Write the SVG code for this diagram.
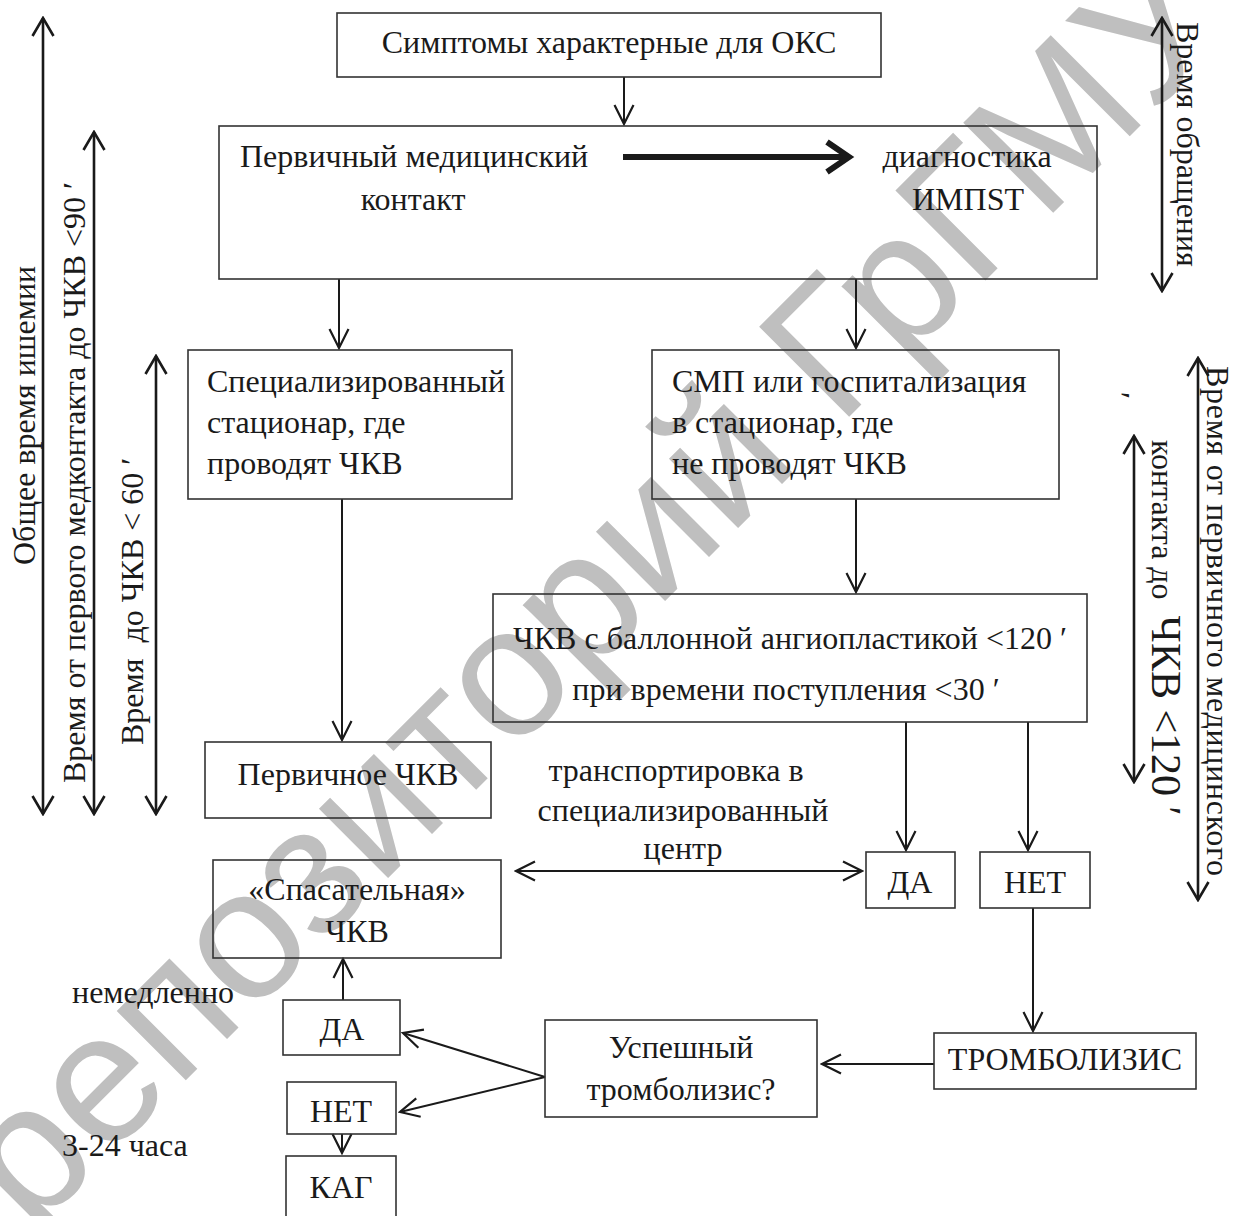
<svg xmlns="http://www.w3.org/2000/svg" width="1235" height="1216" viewBox="0 0 1235 1216">
<style>
.box{fill:none;stroke:#333;stroke-width:1.6}
.t{font-family:"Liberation Serif","Times New Roman",serif;font-size:32px;fill:#1a1a1a}
.m{text-anchor:middle}
.c{stroke:#1a1a1a;stroke-width:2;fill:none}
.s{stroke:#1a1a1a;stroke-width:2.6;fill:none}
.wm{font-family:"Liberation Sans",Arial,sans-serif;font-size:185px;fill:#bfbfbf;text-anchor:middle}
</style>
<defs>
<marker id="ah" markerUnits="userSpaceOnUse" viewBox="-22 -12 24 24" refX="0" refY="0" markerWidth="24" markerHeight="24" orient="auto-start-reverse">
<path d="M-19,-9.5 L0,0 L-19,9.5" fill="none" stroke="#1a1a1a" stroke-width="2.2"/>
</marker>
<marker id="ahb" markerUnits="userSpaceOnUse" viewBox="-22 -13 24 26" refX="0" refY="0" markerWidth="24" markerHeight="26" orient="auto-start-reverse">
<path d="M-18,-10.5 L0,0 L-18,10.5" fill="none" stroke="#1a1a1a" stroke-width="2.6"/>
</marker>
</defs>
<rect width="1235" height="1216" fill="#fff"/>
<g id="watermark">
<text class="wm" transform="translate(633,633) rotate(-45)">репозиторий ГрГМУ</text>
</g>
<g id="connectors">
<line class="c" x1="624" y1="77" x2="624" y2="124" marker-end="url(#ah)"/>
<line class="c" x1="339" y1="279" x2="339" y2="348" marker-end="url(#ah)"/>
<line class="c" x1="856" y1="279" x2="856" y2="348" marker-end="url(#ah)"/>
<line class="c" x1="342" y1="499" x2="342" y2="740" marker-end="url(#ah)"/>
<line class="c" x1="856" y1="499" x2="856" y2="592" marker-end="url(#ah)"/>
<line class="c" x1="906" y1="722" x2="906" y2="850" marker-end="url(#ah)"/>
<line class="c" x1="1028" y1="722" x2="1028" y2="850" marker-end="url(#ah)"/>
<line class="c" x1="1033" y1="908" x2="1033" y2="1031" marker-end="url(#ah)"/>
<line class="c" x1="934" y1="1064" x2="822" y2="1064" marker-end="url(#ah)"/>
<line class="c" x1="516" y1="871" x2="862" y2="871" marker-start="url(#ah)" marker-end="url(#ah)"/>
<line class="c" x1="545" y1="1077" x2="403" y2="1033" marker-end="url(#ah)"/>
<line class="c" x1="545" y1="1077" x2="400" y2="1112" marker-end="url(#ah)"/>
<line class="c" x1="343" y1="1000" x2="343" y2="959" marker-end="url(#ah)"/>
<line class="c" x1="342" y1="1134" x2="342" y2="1153" marker-end="url(#ah)"/>
<line x1="623" y1="157" x2="846" y2="157" stroke="#1a1a1a" stroke-width="6"/>
<path d="M827,142 L849,157 L827,172" fill="none" stroke="#1a1a1a" stroke-width="6"/>
<line class="s" x1="43" y1="18" x2="43" y2="814" marker-start="url(#ahb)" marker-end="url(#ahb)"/>
<line class="s" x1="94" y1="132" x2="94" y2="814" marker-start="url(#ahb)" marker-end="url(#ahb)"/>
<line class="s" x1="156" y1="356" x2="156" y2="814" marker-start="url(#ahb)" marker-end="url(#ahb)"/>
<line class="s" x1="1162" y1="18" x2="1162" y2="291" marker-start="url(#ahb)" marker-end="url(#ahb)"/>
<line class="s" x1="1134" y1="436" x2="1134" y2="782" marker-start="url(#ahb)" marker-end="url(#ahb)"/>
<line class="s" x1="1198" y1="358" x2="1198" y2="900" marker-start="url(#ahb)" marker-end="url(#ahb)"/>
</g>
<g id="n-symptoms"><rect class="box" x="337" y="13" width="544" height="64"/><text class="t m" x="609" y="53">Симптомы характерные для ОКС</text></g>
<g id="n-contact"><rect class="box" x="219" y="126" width="878" height="153"/>
<text class="t" x="240" y="167">Первичный медицинский</text>
<text class="t m" x="413" y="210">контакт</text>
<text class="t m" x="967" y="167">диагностика</text>
<text class="t m" x="968" y="210">ИМПST</text></g>
<g id="n-special"><rect class="box" x="188" y="350" width="324" height="149"/>
<text class="t" x="207" y="392">Специализированный</text>
<text class="t" x="207" y="433">стационар, где</text>
<text class="t" x="207" y="474">проводят ЧКВ</text></g>
<g id="n-smp"><rect class="box" x="652" y="350" width="407" height="149"/>
<text class="t" x="672" y="392">СМП или госпитализация</text>
<text class="t" x="672" y="433">в стационар, где</text>
<text class="t" x="672" y="474">не проводят ЧКВ</text></g>
<g id="n-balloon"><rect class="box" x="493" y="594" width="594" height="128"/>
<text class="t m" x="790" y="649">ЧКВ с баллонной ангиопластикой &lt;120 ′</text>
<text class="t m" x="786" y="700">при времени поступления &lt;30 ′</text></g>
<g id="n-primary"><rect class="box" x="205" y="742" width="286" height="76"/>
<text class="t m" x="348" y="785">Первичное ЧКВ</text></g>
<g id="l-transport">
<text class="t m" x="676" y="781">транспортировка в</text>
<text class="t m" x="683" y="821">специализированный</text>
<text class="t m" x="683" y="859">центр</text></g>
<g id="n-rescue"><rect class="box" x="213" y="860" width="288" height="98"/>
<text class="t m" x="357" y="900">«Спасательная»</text>
<text class="t m" x="357" y="942">ЧКВ</text></g>
<g id="n-da1"><rect class="box" x="866" y="852" width="89" height="56"/><text class="t m" x="910" y="893">ДА</text></g>
<g id="n-net1"><rect class="box" x="980" y="852" width="110" height="56"/><text class="t m" x="1035" y="893">НЕТ</text></g>
<g id="n-tromb"><rect class="box" x="934" y="1033" width="262" height="56"/><text class="t m" x="1065" y="1070">ТРОМБОЛИЗИС</text></g>
<g id="n-success"><rect class="box" x="545" y="1020" width="272" height="97"/>
<text class="t m" x="681" y="1058">Успешный</text>
<text class="t m" x="681" y="1100">тромболизис?</text></g>
<g id="n-da2"><rect class="box" x="283" y="1000" width="117" height="55"/><text class="t m" x="342" y="1040">ДА</text></g>
<g id="n-net2"><rect class="box" x="287" y="1082" width="109" height="52"/><text class="t m" x="341" y="1122">НЕТ</text></g>
<g id="n-kag"><rect class="box" x="286" y="1156" width="110" height="70"/><text class="t m" x="341" y="1198">КАГ</text></g>
<g id="labels">
<text class="t" x="72" y="1003">немедленно</text>
<text class="t" x="62" y="1156">3-24 часа</text>
<text class="t" transform="translate(35,565) rotate(-90)">Общее время ишемии</text>
<text class="t" transform="translate(85,783) rotate(-90)">Время от первого медконтакта до ЧКВ &lt;90 ′</text>
<text class="t" xml:space="preserve" transform="translate(143,745) rotate(-90)">Время  до ЧКВ &lt; 60 ′</text>
<text class="t" transform="translate(1177,22) rotate(90)">Время обращения</text>
<text class="t" transform="translate(1207,366) rotate(90)" textLength="510">Время от первичного медицинского</text>
<text class="t" xml:space="preserve" transform="translate(1152,440) rotate(90)">контакта до  <tspan font-size="42">ЧКВ &lt;120 ′</tspan></text>
<text class="t" transform="translate(1108,392) rotate(90)">′</text>
</g>
</svg>
